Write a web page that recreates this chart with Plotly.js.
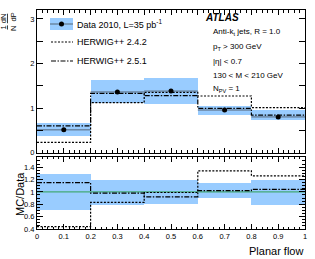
<!DOCTYPE html>
<html><head><meta charset="utf-8">
<script src="https://cdn.plot.ly/plotly-3.0.1.min.js"></script>
<style>html,body{margin:0;padding:0;background:#fff}#c{width:315px;height:259px}</style>
</head><body><div id="c"></div>
<script>
var binEdges = [0, 0.2, 0.4, 0.6, 0.8, 1.0];
var binCenters = [0.1, 0.3, 0.5, 0.7, 0.9];
var dataVal = [0.51, 1.36, 1.38, 0.955, 0.80];
var dataLo = [0.38, 1.11, 1.10, 0.84, 0.73];
var dataHi = [0.66, 1.63, 1.67, 1.04, 0.955];
var h242 = [0.23, 1.12, 1.35, 1.27, 1.01];
var h251 = [0.60, 1.33, 1.28, 0.99, 0.84];
var ratioLo = [0.71, 0.79, 0.81, 0.90, 0.79];
var ratioHi = [1.29, 1.20, 1.20, 1.14, 1.19];
var r242 = [0.44, 0.83, 0.99, 1.34, 1.26];
var r251 = [1.15, 0.98, 0.92, 1.02, 1.04];

var bandColor = '#99ccff';
var FONT = 'Liberation Sans, Arial, Helvetica, sans-serif';
function step(v){ return v.concat([v[v.length-1]]); }
function diff(a,b){ return a.map(function(x,i){return a[i]-b[i];}); }

var traces = [
  {type:'bar', x:binCenters, base:dataLo, y:diff(dataHi,dataLo), width:0.2,
   marker:{color:bandColor, line:{width:0}}, xaxis:'x2', yaxis:'y', hoverinfo:'skip'},
  {type:'scatter', mode:'lines', x:binEdges, y:step(h242), line:{shape:'hv', color:'black', width:1.2, dash:'2px,1.5px'}, xaxis:'x2', yaxis:'y'},
  {type:'scatter', mode:'lines', x:binEdges, y:step(h251), line:{shape:'hv', color:'black', width:1.2, dash:'5px,1.5px,1.5px,1.5px'}, xaxis:'x2', yaxis:'y'},
  {type:'scatter', mode:'markers', x:binCenters, y:dataVal, marker:{color:'black', size:5},
   error_x:{type:'constant', value:0.1, color:'#556677', thickness:1, width:0}, xaxis:'x2', yaxis:'y'},
  {type:'bar', x:binCenters, base:ratioLo, y:diff(ratioHi,ratioLo), width:0.2,
   marker:{color:bandColor, line:{width:0}}, xaxis:'x', yaxis:'y2', hoverinfo:'skip'},
  {type:'scatter', mode:'lines', x:[0,1], y:[1,1], line:{color:'#44aa77', width:1.2}, xaxis:'x', yaxis:'y2'},
  {type:'scatter', mode:'lines', x:binEdges, y:step(r242), line:{shape:'hv', color:'black', width:1.2, dash:'2px,1.5px'}, xaxis:'x', yaxis:'y2'},
  {type:'scatter', mode:'lines', x:binEdges, y:step(r251), line:{shape:'hv', color:'black', width:1.2, dash:'5px,1.5px,1.5px,1.5px'}, xaxis:'x', yaxis:'y2'}
];

var L=37, R=10, T=10, B=30, W=315, H=259;
function px(x){ return (x-L)/(W-L-R); }
function py(y){ return (H-B-y)/(H-T-B); }

var axCommon = {showline:true, linecolor:'black', linewidth:1, mirror:'ticks', ticks:'inside',
  tickcolor:'black', zeroline:false, showgrid:false, automargin:false, tickfont:{family:FONT, size:7.5, color:'black'}};

var layout = {
  width:W, height:H, margin:{l:L, r:R, t:T, b:B}, showlegend:false,
  paper_bgcolor:'white', plot_bgcolor:'white', bargap:0,
  font:{family:FONT, color:'black'},
  xaxis: Object.assign({}, axCommon, {anchor:'y2', range:[0,1], dtick:0.1, tick0:0, ticklen:5,
     minor:{dtick:0.02, ticklen:2.5, ticks:'inside', tickcolor:'black'}}),
  xaxis2: Object.assign({}, axCommon, {anchor:'y', matches:'x', range:[0,1], dtick:0.1, tick0:0, ticklen:5,
     showticklabels:false, minor:{dtick:0.02, ticklen:2.5, ticks:'inside', tickcolor:'black'}}),
  yaxis: Object.assign({}, axCommon, {domain:[0.349,1], range:[0,3.2], tickmode:'array',
     tickvals:[0,0.5,1,1.5,2,2.5,3], ticktext:['0','','1','','2','','3'], ticklen:6}),
  yaxis2: Object.assign({}, axCommon, {domain:[0,0.329], range:[0.4,1.565], tickmode:'array',
     tickvals:[0.4,0.6,0.8,1,1.2,1.4], ticktext:['0.4','0.6','0.8','1','1.2','1.4'], ticklen:6,
     minor:{dtick:0.05, tick0:0, ticklen:3, ticks:'inside', tickcolor:'black'}}),
  shapes:[
    {type:'rect', xref:'paper', yref:'paper', x0:px(50), x1:px(73), y0:py(30), y1:py(18), fillcolor:bandColor, line:{width:0}},
    {type:'line', xref:'paper', yref:'paper', x0:px(50), x1:px(73), y0:py(24), y1:py(24), line:{color:'#556677', width:1}},
    {type:'circle', xref:'paper', yref:'paper', x0:px(59), x1:px(64), y0:py(21.5), y1:py(26.5), fillcolor:'black', line:{width:0}},
    {type:'line', xref:'paper', yref:'paper', x0:px(51), x1:px(73), y0:py(42), y1:py(42), line:{color:'black', width:1.2, dash:'2px,1.5px'}},
    {type:'line', xref:'paper', yref:'paper', x0:px(51), x1:px(73), y0:py(61), y1:py(61), line:{color:'black', width:1.2, dash:'5px,1.5px,1.5px,1.5px'}}
  ],
  annotations:[
    {xref:'paper', yref:'paper', x:px(75), y:py(24), xanchor:'left', yanchor:'middle', showarrow:false, text:'Data 2010, L=35 pb<sup>-1</sup>', font:{size:9, family:FONT}},
    {xref:'paper', yref:'paper', x:px(75), y:py(42), xanchor:'left', yanchor:'middle', showarrow:false, text:'HERWIG++ 2.4.2', font:{size:9, family:FONT}},
    {xref:'paper', yref:'paper', x:px(75), y:py(61), xanchor:'left', yanchor:'middle', showarrow:false, text:'HERWIG++ 2.5.1', font:{size:9, family:FONT}},
    {xref:'paper', yref:'paper', x:px(203), y:py(17), xanchor:'left', yanchor:'middle', showarrow:false, text:'<b><i>ATLAS</i></b>', font:{size:10, family:FONT}},
    {xref:'paper', yref:'paper', x:px(211), y:py(32), xanchor:'left', yanchor:'middle', showarrow:false, text:'Anti-k<sub>t</sub> jets, R = 1.0', font:{size:8, family:FONT}},
    {xref:'paper', yref:'paper', x:px(211), y:py(47), xanchor:'left', yanchor:'middle', showarrow:false, text:'p<sub>T</sub> &gt; 300 GeV', font:{size:8, family:FONT}},
    {xref:'paper', yref:'paper', x:px(211), y:py(61), xanchor:'left', yanchor:'middle', showarrow:false, text:'|η| &lt; 0.7', font:{size:8, family:FONT}},
    {xref:'paper', yref:'paper', x:px(211), y:py(75), xanchor:'left', yanchor:'middle', showarrow:false, text:'130 &lt; M &lt; 210 GeV', font:{size:8, family:FONT}},
    {xref:'paper', yref:'paper', x:px(211), y:py(89), xanchor:'left', yanchor:'middle', showarrow:false, text:'N<sub>PV</sub> = 1', font:{size:8, family:FONT}},
    {xref:'paper', yref:'paper', x:px(305), y:py(243), xanchor:'right', yanchor:'top', showarrow:false, text:'Planar flow', font:{size:11, family:FONT}},
    {xref:'paper', yref:'paper', x:px(20), y:py(194), xanchor:'center', yanchor:'middle', showarrow:false, textangle:-90, text:'MC/Data', font:{size:11, family:FONT}},
    {xref:'paper', yref:'paper', x:px(8), y:py(22), xanchor:'center', yanchor:'middle', showarrow:false, textangle:-90, text:'<u>1</u> <u>dN</u><br>N  dP', font:{size:7.5, family:FONT}}
  ]
};

Plotly.newPlot('c', traces, layout, {displayModeBar:false, staticPlot:true});
</script></body></html>
